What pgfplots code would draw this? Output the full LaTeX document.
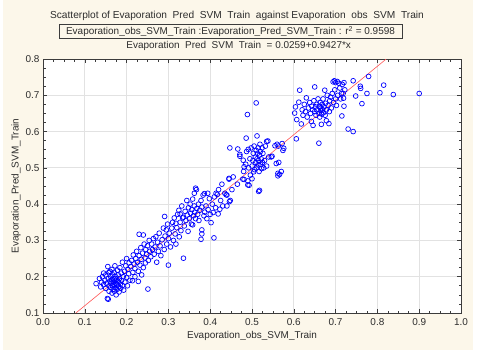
\documentclass[border=0pt]{standalone}
\usepackage{pgfplots}
\pgfplotsset{compat=1.18}
\usepackage{fontspec}
\setmainfont{Liberation Sans}
\definecolor{panel}{RGB}{252,247,234}
\definecolor{txt}{RGB}{45,45,45}
\definecolor{gridc}{RGB}{226,226,226}
\definecolor{fitred}{RGB}{255,85,85}
\definecolor{axc}{RGB}{60,60,60}
\begin{document}
\begin{tikzpicture}[x=1bp,y=1bp]
\useasboundingbox (0,0) rectangle (480,357);
\fill[white] (0,0) rectangle (480,357);
\fill[panel] (3,7) rectangle (473,357);
\begin{axis}[at={(43bp,44bp)}, anchor=south west,
  width=418bp, height=254bp, scale only axis,
  xmin=0, xmax=1, ymin=0.1, ymax=0.8,
  xtick={0,0.1,0.2,0.3,0.4,0.5,0.6,0.7,0.8,0.9,1.0},
  ytick={0.1,0.2,0.3,0.4,0.5,0.6,0.7,0.8},
  minor tick num=3,
  tick align=inside,
  major tick length=4bp, minor tick length=2.5bp,
  tick style={color=axc, line width=0.6bp},
  grid=major, major grid style={gridc, line width=0.9bp},
  axis line style={axc, line width=0.9bp},
  axis background/.style={fill=white},
  /pgf/number format/assume math mode=true,
  /pgf/number format/fixed, /pgf/number format/fixed zerofill, /pgf/number format/precision=1,
  ticklabel style={font=\fontsize{10}{12}\selectfont, text=txt},
  xticklabel style={yshift=-2bp},
  xlabel={Evaporation\_obs\_SVM\_Train},
  ylabel={Evaporation\_Pred\_SVM\_Train},
  label style={font=\fontsize{10}{12}\selectfont, text=txt},
  xlabel style={yshift=1bp},
  ylabel style={yshift=-2bp},
]
\addplot[only marks, mark=o, blue, mark size=2.4bp, mark options={line width=0.7bp}] table {
x y
0.127 0.181
0.135 0.195
0.138 0.172
0.140 0.185
0.142 0.200
0.145 0.178
0.145 0.210
0.148 0.190
0.150 0.168
0.150 0.205
0.152 0.182
0.154 0.140
0.156 0.138
0.155 0.228
0.156 0.195
0.157 0.211
0.158 0.175
0.158 0.160
0.160 0.188
0.160 0.215
0.162 0.170
0.162 0.200
0.163 0.182
0.165 0.155
0.165 0.192
0.165 0.220
0.166 0.175
0.167 0.205
0.168 0.185
0.168 0.165
0.170 0.195
0.170 0.178
0.170 0.212
0.171 0.160
0.172 0.188
0.172 0.230
0.173 0.170
0.174 0.200
0.175 0.182
0.175 0.150
0.176 0.193
0.177 0.165
0.178 0.178
0.178 0.218
0.180 0.187
0.180 0.205
0.181 0.172
0.182 0.158
0.183 0.195
0.184 0.225
0.185 0.180
0.186 0.168
0.187 0.210
0.188 0.190
0.190 0.176
0.190 0.240
0.192 0.200
0.193 0.163
0.195 0.215
0.196 0.185
0.198 0.230
0.200 0.198
0.200 0.250
0.202 0.175
0.203 0.220
0.205 0.208
0.206 0.238
0.208 0.190
0.210 0.228
0.212 0.245
0.214 0.189
0.215 0.212
0.216 0.260
0.218 0.235
0.220 0.200
0.220 0.222
0.222 0.250
0.224 0.270
0.226 0.240
0.228 0.187
0.228 0.215
0.230 0.258
0.230 0.317
0.232 0.232
0.234 0.280
0.235 0.248
0.236 0.205
0.238 0.265
0.240 0.315
0.240 0.225
0.242 0.290
0.244 0.252
0.245 0.238
0.246 0.275
0.248 0.262
0.250 0.285
0.251 0.166
0.252 0.245
0.254 0.300
0.255 0.270
0.258 0.255
0.260 0.290
0.262 0.275
0.264 0.305
0.266 0.262
0.268 0.282
0.270 0.310
0.272 0.240
0.274 0.295
0.276 0.270
0.278 0.320
0.280 0.285
0.282 0.258
0.285 0.302
0.288 0.334
0.290 0.275
0.291 0.366
0.292 0.312
0.295 0.329
0.296 0.290
0.298 0.345
0.300 0.232
0.300 0.305
0.302 0.320
0.305 0.282
0.308 0.334
0.310 0.350
0.312 0.300
0.314 0.362
0.316 0.318
0.318 0.347
0.318 0.290
0.320 0.335
0.322 0.372
0.325 0.383
0.326 0.310
0.328 0.373
0.328 0.350
0.330 0.327
0.332 0.395
0.334 0.362
0.336 0.251
0.336 0.364
0.338 0.340
0.340 0.380
0.342 0.355
0.344 0.410
0.345 0.370
0.347 0.325
0.348 0.390
0.350 0.360
0.352 0.400
0.353 0.375
0.355 0.345
0.356 0.385
0.358 0.414
0.358 0.343
0.360 0.368
0.362 0.430
0.362 0.395
0.363 0.378
0.365 0.444
0.365 0.360
0.367 0.440
0.368 0.388
0.370 0.372
0.372 0.400
0.373 0.355
0.375 0.383
0.378 0.303
0.378 0.410
0.380 0.329
0.380 0.318
0.380 0.392
0.383 0.425
0.385 0.368
0.386 0.429
0.387 0.378
0.390 0.395
0.392 0.360
0.394 0.430
0.395 0.385
0.398 0.415
0.400 0.372
0.402 0.349
0.405 0.400
0.407 0.377
0.409 0.307
0.410 0.420
0.413 0.390
0.414 0.430
0.417 0.427
0.419 0.373
0.420 0.440
0.423 0.386
0.425 0.410
0.428 0.455
0.430 0.395
0.435 0.430
0.438 0.426
0.440 0.425
0.440 0.395
0.445 0.469
0.445 0.471
0.446 0.407
0.448 0.410
0.452 0.440
0.455 0.475
0.465 0.455
0.471 0.532
0.478 0.469
0.480 0.490
0.481 0.468
0.485 0.510
0.487 0.545
0.490 0.464
0.490 0.453
0.492 0.500
0.493 0.452
0.495 0.525
0.496 0.480
0.498 0.555
0.500 0.470
0.500 0.505
0.502 0.520
0.503 0.540
0.504 0.489
0.505 0.560
0.506 0.495
0.508 0.530
0.509 0.515
0.510 0.548
0.510 0.500
0.512 0.588
0.512 0.525
0.513 0.540
0.514 0.508
0.515 0.555
0.516 0.435
0.516 0.520
0.517 0.490
0.518 0.438
0.518 0.535
0.519 0.565
0.520 0.510
0.520 0.545
0.522 0.525
0.523 0.498
0.524 0.555
0.525 0.515
0.526 0.540
0.528 0.500
0.530 0.520
0.532 0.560
0.535 0.573
0.535 0.505
0.538 0.574
0.540 0.530
0.546 0.530
0.548 0.532
0.555 0.561
0.558 0.512
0.560 0.565
0.562 0.485
0.562 0.478
0.564 0.515
0.566 0.482
0.570 0.490
0.572 0.567
0.574 0.548
0.576 0.554
0.563 0.560
0.510 0.679
0.489 0.647
0.486 0.582
0.447 0.555
0.466 0.552
0.491 0.551
0.471 0.537
0.479 0.521
0.481 0.503
0.602 0.651
0.604 0.668
0.606 0.580
0.607 0.633
0.612 0.681
0.614 0.714
0.618 0.621
0.620 0.660
0.622 0.645
0.625 0.675
0.628 0.655
0.630 0.693
0.632 0.640
0.635 0.665
0.638 0.680
0.640 0.650
0.642 0.628
0.643 0.670
0.645 0.660
0.646 0.617
0.648 0.685
0.650 0.723
0.650 0.655
0.652 0.668
0.653 0.645
0.655 0.675
0.656 0.660
0.658 0.690
0.660 0.568
0.660 0.650
0.661 0.670
0.662 0.640
0.663 0.680
0.664 0.658
0.665 0.665
0.666 0.620
0.667 0.648
0.668 0.675
0.669 0.660
0.670 0.690
0.671 0.652
0.672 0.668
0.674 0.714
0.675 0.645
0.676 0.678
0.678 0.630
0.678 0.660
0.680 0.700
0.682 0.672
0.684 0.622
0.685 0.655
0.686 0.685
0.688 0.695
0.690 0.665
0.692 0.705
0.694 0.737
0.695 0.680
0.697 0.740
0.698 0.715
0.700 0.690
0.700 0.735
0.702 0.672
0.704 0.738
0.705 0.700
0.708 0.733
0.710 0.720
0.712 0.690
0.714 0.705
0.715 0.643
0.716 0.730
0.718 0.705
0.719 0.692
0.720 0.735
0.720 0.670
0.722 0.715
0.730 0.607
0.742 0.600
0.742 0.740
0.748 0.698
0.759 0.725
0.760 0.719
0.763 0.677
0.775 0.705
0.779 0.752
0.806 0.707
0.815 0.728
0.838 0.702
0.900 0.705
};
\addplot[fitred, line width=0.6bp] coordinates {(0.0786,0.1) (0.8212,0.8)};
\end{axis}
\node[text=txt, font=\fontsize{10.2}{12}\selectfont] at (237,340.7) {Scatterplot of Evaporation\ \ Pred\ \ SVM\ \ Train\ \ against Evaporation\ \ obs\ \ SVM\ \ Train};
\draw[axc, line width=0.9bp] (59,318.5) rectangle (402,332.5);
\node[text=txt, font=\fontsize{10}{12}\selectfont] at (230.5,325.3) {Evaporation\_obs\_SVM\_Train :Evaporation\_Pred\_SVM\_Train : r\textsuperscript{2} = 0.9598};
\node[text=txt, font=\fontsize{10}{12}\selectfont] at (238.7,310.8) {Evaporation\ \ Pred\ \ SVM\ \ Train\ \ = 0.0259+0.9427*x};
\end{tikzpicture}
\end{document}
